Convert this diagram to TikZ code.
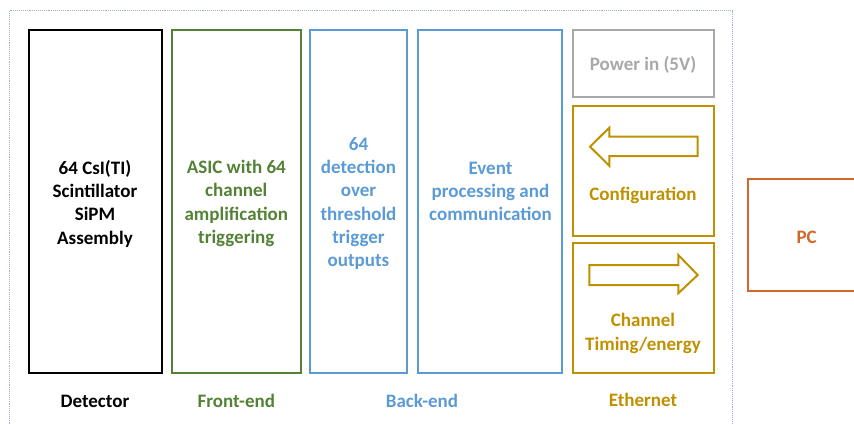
\documentclass[tikz,border=0pt]{standalone}
\usepackage{fontspec}
\setmainfont{Carlito}
\definecolor{fegreen}{RGB}{84,130,53}
\definecolor{beblue}{RGB}{91,155,213}
\definecolor{ethgold}{RGB}{191,144,0}
\definecolor{pcorange}{RGB}{208,104,44}
\definecolor{pwgray}{RGB}{168,168,168}
\definecolor{frameblue}{RGB}{160,175,205}
\begin{document}
\begin{tikzpicture}[x=1pt,y=1pt,
  blk/.style={draw, line width=2pt, inner sep=0pt, rectangle},
  txt/.style={font=\bfseries\fontsize{19}{23.3}\selectfont, align=center, inner sep=0pt},
  arrowshape/.style={draw=ethgold, line width=2pt, line join=miter}]
  \useasboundingbox (0,0) rectangle (854,-423);

  % board outline
  \draw[frameblue, densely dotted, line width=0.9pt] (9,-430) -- (9,-10.7) -- (732,-10.7) -- (732,-430);

  % functional blocks
  \node[blk, draw=black, minimum width=133pt, minimum height=343.5pt] (det) at (95,-201.25) {};
  \node[blk, draw=fegreen, minimum width=129.3pt, minimum height=343.5pt] (fe) at (236.35,-201.25) {};
  \node[blk, draw=beblue, minimum width=97pt, minimum height=343.5pt] (trig) at (358.5,-201.25) {};
  \node[blk, draw=beblue, minimum width=143.7pt, minimum height=343.5pt] (evt) at (489.85,-201.25) {};
  \node[blk, draw=pwgray, minimum width=141.3pt, minimum height=67.5pt] (pwr) at (643.35,-63.25) {};
  \node[blk, draw=ethgold, minimum width=141.3pt, minimum height=130pt] (cfg) at (643.35,-170.7) {};
  \node[blk, draw=ethgold, minimum width=141.3pt, minimum height=130.3pt] (chn) at (643.35,-307.85) {};
  \node[blk, draw=pcorange, minimum width=130pt, minimum height=111.7pt] (pc) at (812.7,-234.85) {};

  % block texts
  \node[txt, text=black] (dettxt) at (95,-203.5) {64 CsI(TI)\\Scintillator\\SiPM\\Assembly};
  \node[txt, text=fegreen] (fetxt) at (236.3,-203.5) {ASIC with 64\\channel\\amplification\\triggering};
  \node[txt, text=beblue] (trigtxt) at (358.5,-203.4) {64\\detection\\over\\threshold\\trigger\\outputs};
  \node[txt, text=beblue] (evttxt) at (490.5,-191.5) {Event\\processing and\\communication};
  \node[txt, text=pwgray] (pwrtxt) at (643,-64.5) {Power in (5V)};
  \node[txt, text=ethgold] (cfgtxt) at (643,-195.5) {Configuration};
  \node[txt, text=ethgold] (chntxt) at (643,-333.5) {Channel\\Timing/energy};
  \node[txt, text=pcorange] (pctxt) at (806.7,-237) {PC};

  % direction arrows
  \draw[arrowshape] (590,-146.7) -- (609.3,-127.7) -- (609.3,-136.7) -- (697.7,-136.7)
    -- (697.7,-156) -- (609.3,-156) -- (609.3,-165.7) -- cycle;
  \draw[arrowshape] (589.3,-265) -- (678.3,-265) -- (678.3,-255) -- (697.7,-275)
    -- (678.3,-293.3) -- (678.3,-285) -- (589.3,-285) -- cycle;

  % section labels
  \node[txt, text=black] (lbldet) at (95,-401) {Detector};
  \node[txt, text=fegreen] (lblfe) at (236.3,-401) {Front-end};
  \node[txt, text=beblue] (lblbe) at (422,-401) {Back-end};
  \node[txt, text=ethgold] (lbleth) at (643,-400) {Ethernet};
\end{tikzpicture}
\end{document}
